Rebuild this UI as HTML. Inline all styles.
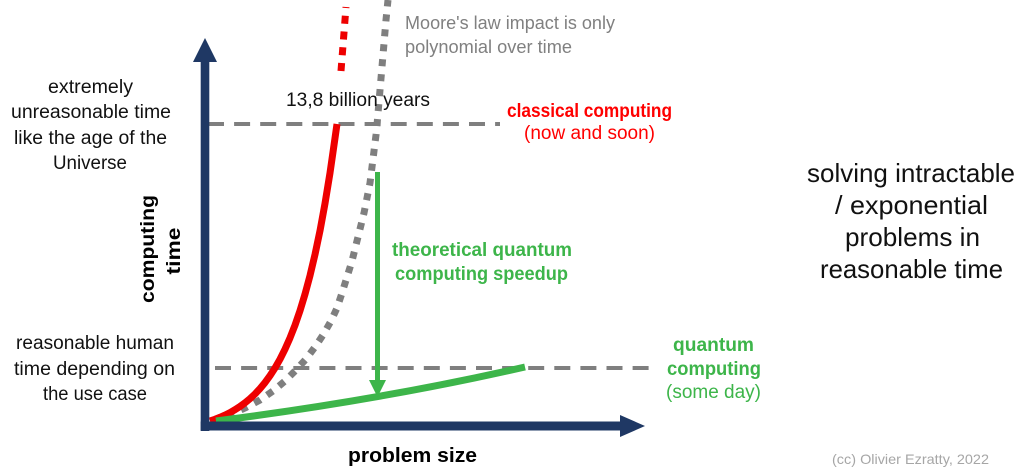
<!DOCTYPE html>
<html>
<head>
<meta charset="utf-8">
<style>
  html, body { margin:0; padding:0; background:#ffffff; }
  body { width:1024px; height:476px; overflow:hidden; }
  svg { display:block; }
  text { font-family: "Liberation Sans", sans-serif; }
</style>
</head>
<body>
<svg width="1024" height="476" viewBox="0 0 1024 476" xmlns="http://www.w3.org/2000/svg">
  <rect x="0" y="0" width="1024" height="476" fill="#ffffff"/>

  <!-- dashed reference lines -->
  <line x1="208" y1="124" x2="500" y2="124" stroke="#7f7f7f" stroke-width="4" stroke-dasharray="16 10.1"/>
  <line x1="215" y1="368" x2="650" y2="368" stroke="#7f7f7f" stroke-width="4" stroke-dasharray="16 10.1"/>

  <!-- red dotted continuation -->
  <path d="M341,71 L346,7" fill="none" stroke="#ee0000" stroke-width="7" stroke-dasharray="8 7.8"/>

  <!-- gray dotted (Moore's law) -->
  <polyline fill="none" stroke="#7f7f7f" stroke-width="7" stroke-dasharray="7 8" stroke-linejoin="round"
    points="214,423 230,415 245,408 260,400 273,391 285,381 296,370 306,359 315,347 323,335 331,321 337,308 342,293 347,277 352,261 356,245 360,229 364,213 367,198 370,183 372,167 374,151 376,135 377,125 380,90 383,55 386,20 388,0"/>

  <!-- red classical curve -->
  <polyline fill="none" stroke="#ee0000" stroke-width="7" stroke-linejoin="round"
    points="210,421 215,419.3 220,417.3 225,415.1 230,412.6 235,409.7 240,406.5 245,402.8 250,398.7 255,394 260,388.6 265,382.6 270,375.7 275,368 280,359.2 285,349.2 290,337.9 295,325.2 300,310.7 305,294.2 310,275.6 315,254.5 320,230.7 325,203.5 330,172.9 335,138.1 337,124"/>

  <!-- green quantum curve -->
  <path d="M216,421 Q380,400 525,367" fill="none" stroke="#3db54a" stroke-width="7"/>

  <!-- green speedup arrow -->
  <line x1="377.5" y1="172" x2="377.5" y2="382" stroke="#3db54a" stroke-width="5"/>
  <polygon points="369,380 386,380 377.5,397" fill="#3db54a"/>

  <!-- axes -->
  <rect x="200.7" y="60" width="8.6" height="371" fill="#1f3864"/>
  <polygon points="193,62 217,62 205,38" fill="#1f3864"/>
  <rect x="200.7" y="421.5" width="421" height="9" fill="#1f3864"/>
  <polygon points="620,415 620,437 645,426" fill="#1f3864"/>

  <!-- Moore's law text -->
  <text x="405" y="29" font-size="18" fill="#808080" textLength="210" lengthAdjust="spacingAndGlyphs">Moore's law impact is only</text>
  <text x="405" y="53" font-size="18" fill="#808080" textLength="167" lengthAdjust="spacingAndGlyphs">polynomial over time</text>

  <!-- 13,8 billion years -->
  <text x="286" y="106" font-size="19" fill="#111" textLength="144" lengthAdjust="spacingAndGlyphs">13,8 billion years</text>

  <!-- classical computing -->
  <text x="507" y="117" font-size="19" font-weight="bold" fill="#ff0000" textLength="165" lengthAdjust="spacingAndGlyphs">classical computing</text>
  <text x="524" y="139" font-size="19" fill="#ff0000" textLength="131" lengthAdjust="spacingAndGlyphs">(now and soon)</text>

  <!-- theoretical quantum computing speedup -->
  <text x="392" y="256" font-size="19" font-weight="bold" fill="#3db54a" textLength="180" lengthAdjust="spacingAndGlyphs">theoretical quantum</text>
  <text x="395" y="280" font-size="19" font-weight="bold" fill="#3db54a" textLength="173" lengthAdjust="spacingAndGlyphs">computing speedup</text>

  <!-- quantum computing (some day) -->
  <text x="673" y="351" font-size="19" font-weight="bold" fill="#3db54a" textLength="81" lengthAdjust="spacingAndGlyphs">quantum</text>
  <text x="667" y="375" font-size="19" font-weight="bold" fill="#3db54a" textLength="94" lengthAdjust="spacingAndGlyphs">computing</text>
  <text x="666" y="398" font-size="19" fill="#3db54a" textLength="95" lengthAdjust="spacingAndGlyphs">(some day)</text>

  <!-- left texts -->
  <text x="48" y="93" font-size="19" fill="#111" textLength="85" lengthAdjust="spacingAndGlyphs">extremely</text>
  <text x="11" y="118" font-size="19" fill="#111" textLength="160" lengthAdjust="spacingAndGlyphs">unreasonable time</text>
  <text x="14" y="144" font-size="19" fill="#111" textLength="153" lengthAdjust="spacingAndGlyphs">like the age of the</text>
  <text x="53" y="169" font-size="19" fill="#111" textLength="74" lengthAdjust="spacingAndGlyphs">Universe</text>

  <text x="16" y="349" font-size="19" fill="#111" textLength="158" lengthAdjust="spacingAndGlyphs">reasonable human</text>
  <text x="14" y="375" font-size="19" fill="#111" textLength="161" lengthAdjust="spacingAndGlyphs">time depending on</text>
  <text x="43" y="400" font-size="19" fill="#111" textLength="104" lengthAdjust="spacingAndGlyphs">the use case</text>

  <!-- y-axis label -->
  <text transform="translate(154,249) rotate(-90)" text-anchor="middle" font-size="19" font-weight="bold" fill="#000" textLength="108" lengthAdjust="spacingAndGlyphs">computing</text>
  <text transform="translate(180,251) rotate(-90)" text-anchor="middle" font-size="19" font-weight="bold" fill="#000" textLength="47" lengthAdjust="spacingAndGlyphs">time</text>

  <!-- x-axis label -->
  <text x="348" y="462" font-size="20" font-weight="bold" fill="#000" textLength="129" lengthAdjust="spacingAndGlyphs">problem size</text>

  <!-- right text -->
  <text x="807" y="182" font-size="26" fill="#111" textLength="208" lengthAdjust="spacingAndGlyphs">solving intractable</text>
  <text x="835" y="214" font-size="26" fill="#111" textLength="153" lengthAdjust="spacingAndGlyphs">/ exponential</text>
  <text x="845" y="246" font-size="26" fill="#111" textLength="135" lengthAdjust="spacingAndGlyphs">problems in</text>
  <text x="820" y="278" font-size="26" fill="#111" textLength="183" lengthAdjust="spacingAndGlyphs">reasonable time</text>

  <!-- copyright -->
  <text x="832" y="464" font-size="14" fill="#a6a6a6" textLength="157" lengthAdjust="spacingAndGlyphs">(cc) Olivier Ezratty, 2022</text>
</svg>
</body>
</html>
